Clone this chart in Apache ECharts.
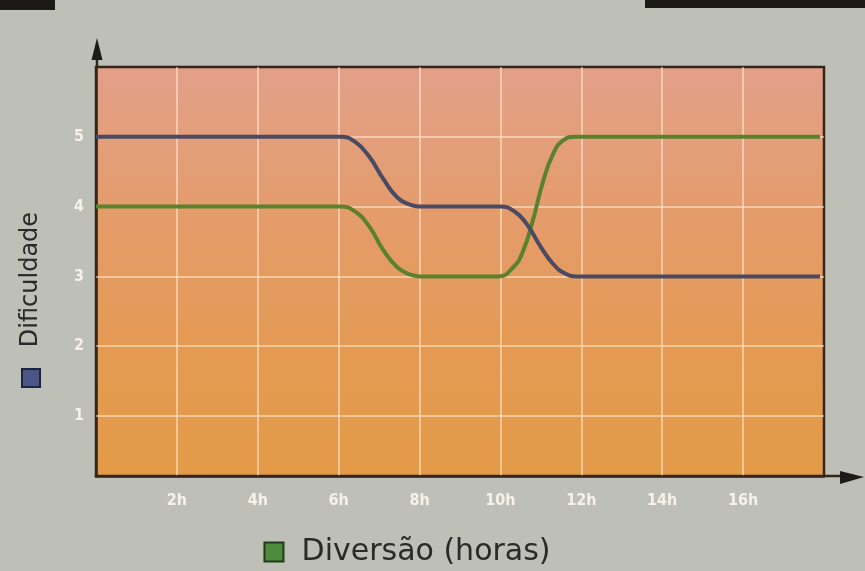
<!DOCTYPE html>
<html>
<head>
<meta charset="utf-8">
<script src="https://cdn.jsdelivr.net/npm/echarts@6/dist/echarts.min.js"></script>
<style>
html,body{margin:0;padding:0;background:#bebfb7;}
#c{width:865px;height:571px;}
</style>
</head>
<body>
<div id="c"></div>
<script>
// Data
const xTicks = [2, 4, 6, 8, 10, 12, 14, 16];
const yTicks = [1, 2, 3, 4, 5];
const dificuldade = [
  [0,5],[6.05,5],[6.4,4.93],[6.75,4.72],[7.1,4.4],[7.45,4.13],[7.75,4.03],[8.0,4],
  [10,4],[10.35,3.93],[10.65,3.75],[11.0,3.42],[11.3,3.18],[11.6,3.04],[11.9,3],[17.9,3]
];
const diversao = [
  [0,4],[6.05,4],[6.4,3.93],[6.75,3.72],[7.1,3.38],[7.45,3.13],[7.75,3.03],[8.0,3],
  [9.95,3],[10.3,3.12],[10.55,3.35],[10.8,3.8],[11.05,4.35],[11.3,4.75],[11.55,4.95],[11.85,5],[17.9,5]
];
const yTitle = 'Dificuldade';
const xTitle = 'Diversão (horas)';

const chart = echarts.init(document.getElementById('c'));
const labelFont = {color:'#f6f2e8', fontWeight:'bold', fontSize:16, fontFamily:'DejaVu Sans Condensed, DejaVu Sans'};
const border = '#33261a';
const gridColor = 'rgba(255,244,225,0.5)';
chart.setOption({
  animation:false,
  backgroundColor:'#bebfb7',
  grid:{left:96,right:41,top:67,bottom:95,show:true,borderColor:border,borderWidth:2.5,
    backgroundColor:{type:'linear',x:0,y:0,x2:0,y2:1,colorStops:[
      {offset:0,color:'#e3a08a'},{offset:0.35,color:'#e49c6c'},{offset:0.7,color:'#e49a52'},{offset:1,color:'#e39b48'}]}},
  xAxis:{type:'value',min:0,max:18,interval:2,
    axisLine:{show:true,lineStyle:{color:border,width:2.5}},
    axisTick:{show:false},
    axisLabel:Object.assign({margin:17,formatter:v=> (xTicks.indexOf(v)>=0) ? v+'h' : ''},labelFont),
    splitLine:{show:true,showMinLine:false,showMaxLine:false,lineStyle:{color:gridColor,width:2}}},
  yAxis:{type:'value',min:0.14,max:6,
    axisLine:{show:true,lineStyle:{color:border,width:2.5}},
    axisTick:{show:false},
    axisLabel:Object.assign({margin:12,customValues:yTicks},labelFont),
    splitLine:{show:false}},
  series:[
    {type:'line',data:[],silent:true,z:1,
      markLine:{silent:true,symbol:'none',z:1,label:{show:false},
        lineStyle:{color:gridColor,width:2,type:'solid'},
        data:yTicks.map(v=>({yAxis:v}))}},
    {name:'Diversão',type:'line',data:diversao,smooth:0.5,showSymbol:false,z:5,
      lineStyle:{color:'#5a812e',width:4}},
    {name:'Dificuldade',type:'line',data:dificuldade,smooth:0.5,showSymbol:false,z:6,
      lineStyle:{color:'#4a4a62',width:4}}
  ],
  graphic:[
    {type:'rect',shape:{x:0,y:0,width:55,height:10},style:{fill:'#1c1a16'}},
    {type:'rect',shape:{x:645,y:0,width:220,height:8},style:{fill:'#1c1a16'}},
    {type:'line',shape:{x1:97,y1:67,x2:97,y2:55},style:{stroke:border,lineWidth:2.5}},
    {type:'polygon',shape:{points:[[97,38],[91.5,60],[102.5,60]]},style:{fill:'#1e1a16'}},
    {type:'line',shape:{x1:824,y1:476,x2:845,y2:476},style:{stroke:border,lineWidth:2.5}},
    {type:'polygon',shape:{points:[[864,477],[840,471],[840,484]]},style:{fill:'#1e1a16'}},
    {type:'text',x:31,y:299,rotation:Math.PI/2,
      style:{text:'{sq|}   '+yTitle,align:'center',verticalAlign:'middle',
        fill:'#2a2a2a',font:'24px "DejaVu Sans"',
        rich:{sq:{width:16,height:16,backgroundColor:'#4a5688',borderColor:'#1e2440',borderWidth:2}}}},
    {type:'text',x:408,y:552,
      style:{text:'{sq|}  '+xTitle,align:'center',verticalAlign:'middle',
        fill:'#2a2a2a',font:'30px "DejaVu Sans"',
        rich:{sq:{width:17,height:17,backgroundColor:'#4d8c3e',borderColor:'#1f3a1a',borderWidth:2}}}}
  ]
});
</script>
</body>
</html>
